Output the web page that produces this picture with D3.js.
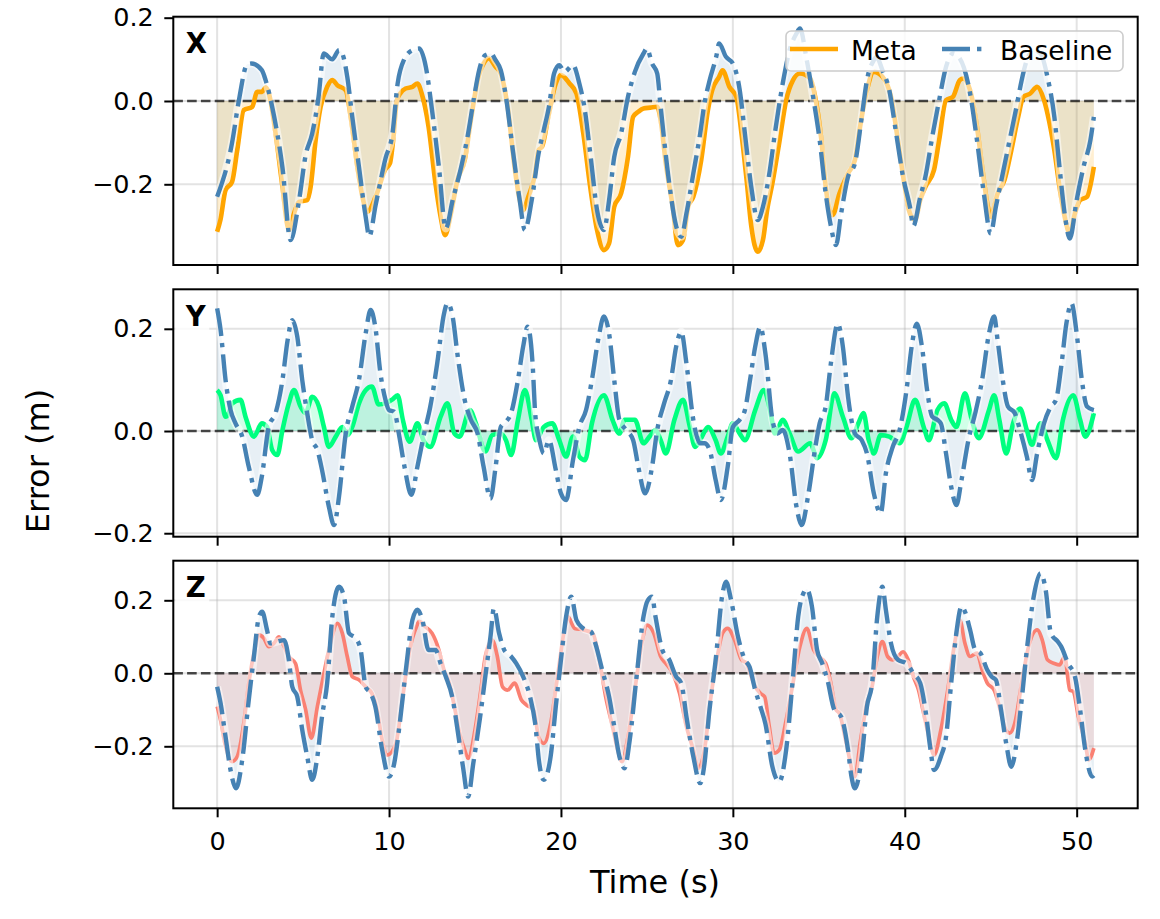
<!DOCTYPE html>
<html><head><meta charset="utf-8">
<script src="https://cdn.jsdelivr.net/npm/d3@7"></script>
<style>body{margin:0;background:#fff;} svg{display:block;font-family:"DejaVu Sans",sans-serif;}</style>
</head><body><svg id="c" width="1160" height="919"></svg>
<script>
// ---------------- data ----------------
const panelNames = ["X", "Y", "Z"];
const xTicks = [0, 10, 20, 30, 40, 50];
const yTicks = [-0.2, 0, 0.2];
const xLimits = [-2.55, 53.55];
const yLimitsX = [-0.3938, 0.2024];
const yLimitsY = [-0.2068, 0.2773];
const yLimitsZ = [-0.3699, 0.3085];
const seriesNames = ["Meta", "Baseline"];
const metaColors = ["#FFA500", "#00FF7F", "#FA8072"];
const baselineColor = "#4682B4";

// [time (s), error (m)]
const metaX = [[0,-0.314],[0.19,-0.286],[0.49,-0.214],[0.87,-0.194],[1.17,-0.118],[1.55,-0.022],[2.04,-0.014],[2.33,0.022],[2.62,0.022],[2.82,0.033],[3.0,0.02],[3.4,-0.078],[3.8,-0.206],[4.17,-0.31],[4.47,-0.27],[4.76,-0.242],[5.24,-0.238],[5.44,-0.206],[5.73,-0.094],[6.02,-0.014],[6.4,0.034],[6.7,0.05],[6.99,0.038],[7.48,0.026],[7.77,-0.038],[8.16,-0.158],[8.45,-0.23],[8.74,-0.266],[9.22,-0.23],[9.8,-0.163],[10.05,-0.15],[10.25,-0.09],[10.45,0.0],[10.65,0.018],[10.96,0.03],[11.36,0.034],[11.65,0.042],[11.9,0.018],[12.3,-0.062],[12.7,-0.198],[13.0,-0.278],[13.26,-0.322],[13.6,-0.27],[13.98,-0.19],[14.4,-0.142],[14.76,-0.046],[15.15,0.05],[15.5,0.09],[15.8,0.102],[16.2,0.082],[16.5,0.066],[16.9,-0.014],[17.3,-0.158],[17.6,-0.238],[17.8,-0.262],[18.1,-0.23],[18.5,-0.174],[18.7,-0.118],[18.9,-0.11],[19.3,-0.03],[19.7,0.042],[20.0,0.062],[20.5,0.042],[20.9,0.018],[21.3,-0.078],[21.7,-0.206],[22.1,-0.31],[22.5,-0.358],[22.8,-0.342],[23.1,-0.254],[23.5,-0.222],[23.9,-0.134],[24.2,-0.038],[24.5,-0.026],[24.8,-0.018],[25.2,-0.016],[25.6,-0.014],[25.8,-0.046],[26.1,-0.15],[26.5,-0.254],[26.8,-0.346],[27.1,-0.334],[27.4,-0.254],[27.7,-0.23],[28.16,-0.142],[28.55,-0.022],[28.8,0.026],[29.2,0.058],[29.4,0.074],[29.8,0.034],[30.2,0.01],[30.5,-0.078],[30.8,-0.19],[31.07,-0.3],[31.45,-0.362],[31.75,-0.334],[32.0,-0.26],[32.3,-0.198],[32.7,-0.1],[33.1,0.002],[33.5,0.05],[33.9,0.066],[34.5,0.054],[34.75,0.018],[35.15,-0.094],[35.4,-0.206],[35.8,-0.274],[36.2,-0.222],[36.7,-0.174],[37.1,-0.142],[37.4,-0.062],[37.8,0.026],[38.2,0.07],[38.7,0.058],[39.2,0.01],[39.6,-0.094],[40.0,-0.206],[40.3,-0.27],[40.6,-0.286],[40.9,-0.238],[41.2,-0.206],[41.7,-0.166],[42.0,-0.094],[42.4,0.002],[42.8,0.01],[43.2,0.05],[43.4,0.054],[43.8,0.026],[44.2,-0.062],[44.5,-0.158],[44.8,-0.246],[45.0,-0.278],[45.4,-0.222],[45.8,-0.19],[46.2,-0.118],[46.6,-0.038],[46.9,0.01],[47.3,0.018],[47.7,0.034],[48.1,0.002],[48.3,-0.03],[48.7,-0.118],[49.0,-0.206],[49.3,-0.278],[49.6,-0.318],[49.9,-0.27],[50.2,-0.238],[50.6,-0.23],[51.0,-0.158]];

const baseX = [[0,-0.23],[0.87,-0.1],[1.26,0.0],[1.75,0.088],[2.0,0.09],[2.6,0.074],[2.82,0.05],[3.2,-0.014],[3.8,-0.16],[4.27,-0.334],[4.76,-0.24],[5.15,-0.13],[5.53,-0.078],[5.9,0.01],[6.2,0.114],[6.7,0.1],[7.09,0.122],[7.28,0.114],[7.57,0.058],[7.86,-0.038],[8.25,-0.158],[8.64,-0.278],[8.85,-0.325],[9.22,-0.25],[9.8,-0.137],[10.2,-0.078],[10.5,0.042],[10.88,0.1],[11.36,0.122],[11.75,0.126],[12.14,0.082],[12.5,-0.022],[12.9,-0.158],[13.3,-0.306],[13.7,-0.238],[14.2,-0.158],[14.6,-0.078],[14.95,0.01],[15.24,0.074],[15.6,0.11],[15.93,0.114],[16.2,0.098],[16.5,0.074],[16.8,0.01],[17.2,-0.118],[17.6,-0.238],[17.9,-0.31],[18.3,-0.238],[18.7,-0.126],[19.0,-0.07],[19.3,-0.014],[19.6,0.066],[19.9,0.086],[20.2,0.07],[20.7,0.086],[21.07,0.042],[21.36,-0.014],[21.75,-0.142],[22.1,-0.262],[22.5,-0.31],[22.8,-0.238],[23.1,-0.134],[23.5,-0.078],[23.9,0.01],[24.3,0.07],[24.8,0.114],[25.0,0.126],[25.3,0.09],[25.6,0.066],[25.8,-0.014],[26.3,-0.198],[26.7,-0.3],[27.0,-0.326],[27.3,-0.27],[27.7,-0.174],[28.1,-0.078],[28.35,-0.006],[28.65,0.05],[29.03,0.106],[29.2,0.138],[29.6,0.106],[30.0,0.09],[30.4,0.026],[30.7,-0.078],[31.07,-0.206],[31.45,-0.286],[31.75,-0.254],[32.1,-0.18],[32.5,-0.062],[32.9,0.042],[33.3,0.122],[33.7,0.162],[33.9,0.174],[34.3,0.098],[34.7,0.002],[35.05,-0.094],[35.4,-0.222],[35.7,-0.3],[36.0,-0.346],[36.3,-0.27],[36.7,-0.182],[37.1,-0.15],[37.5,-0.038],[37.8,0.05],[38.2,0.098],[38.35,0.106],[38.7,0.074],[39.1,0.026],[39.5,-0.078],[39.9,-0.182],[40.3,-0.254],[40.5,-0.3],[40.9,-0.23],[41.2,-0.182],[41.6,-0.086],[42.0,0.002],[42.4,0.082],[42.8,0.114],[43.2,0.102],[43.8,0.018],[44.2,-0.094],[44.6,-0.222],[45.0,-0.318],[45.3,-0.254],[45.7,-0.174],[46.1,-0.094],[46.5,-0.014],[46.8,0.05],[47.1,0.098],[47.5,0.122],[47.9,0.114],[48.3,0.058],[48.7,-0.038],[49.0,-0.158],[49.3,-0.27],[49.6,-0.33],[50.0,-0.238],[50.4,-0.158],[50.8,-0.094],[51.0,-0.038]];

const metaY = [[0,0.08],[0.2,0.07],[0.49,0.028],[0.68,0.035],[0.87,0.054],[1.36,0.061],[1.65,0.028],[2.14,-0.011],[2.6,0.015],[2.9,0.008],[3.2,-0.037],[3.5,-0.047],[3.8,0.002],[4.17,0.054],[4.47,0.08],[4.85,0.048],[5.15,0.035],[5.53,0.067],[5.92,0.048],[6.21,0.008],[6.5,-0.031],[6.9,-0.011],[7.28,0.008],[7.57,-0.008],[7.86,0.008],[8.25,0.054],[8.64,0.08],[9.0,0.087],[9.4,0.052],[9.8,0.054],[10.2,0.062],[10.5,0.07],[10.8,0.022],[11.2,-0.021],[11.65,0.015],[12.0,-0.018],[12.4,-0.031],[13.0,0.028],[13.4,0.054],[13.8,-0.005],[14.1,-0.011],[14.7,0.041],[15.05,0.015],[15.6,-0.04],[16.0,-0.008],[16.5,-0.005],[16.8,-0.018],[17.1,-0.047],[17.5,0.022],[17.9,0.08],[18.3,0.022],[18.55,-0.018],[19.0,0.008],[19.5,0.015],[19.9,-0.018],[20.3,-0.05],[20.7,-0.011],[21.07,-0.05],[21.4,-0.057],[21.8,0.015],[22.5,0.07],[23.0,0.022],[23.4,-0.005],[23.7,0.022],[24.3,0.022],[24.8,-0.024],[25.15,-0.011],[25.5,0.002],[25.8,-0.018],[26.1,-0.044],[26.6,0.022],[27.1,0.061],[27.5,0.008],[27.8,-0.031],[28.2,-0.011],[28.55,0.008],[29.0,-0.018],[29.3,-0.044],[29.7,-0.011],[30.0,0.015],[30.4,-0.005],[30.7,-0.018],[31.3,0.041],[31.8,0.08],[32.2,0.035],[32.45,-0.005],[32.9,0.022],[33.3,-0.005],[33.8,-0.04],[34.5,-0.024],[34.9,-0.053],[35.4,-0.018],[35.9,0.074],[36.4,0.028],[36.9,-0.014],[37.3,0.015],[37.6,0.035],[37.9,-0.018],[38.2,-0.044],[38.6,-0.008],[39.1,-0.011],[39.7,-0.024],[40.1,0.008],[40.6,0.061],[41.1,0.008],[41.4,-0.018],[41.9,0.041],[42.3,0.054],[42.7,0.022],[43.0,0.008],[43.5,0.074],[43.9,0.022],[44.3,-0.014],[44.9,0.041],[45.2,0.07],[45.5,0.022],[45.9,-0.044],[46.3,0.015],[46.7,0.044],[47.1,0.002],[47.4,-0.027],[47.9,0.015],[48.3,-0.018],[48.8,-0.053],[49.2,0.022],[49.8,0.07],[50.2,0.022],[50.5,-0.011],[51.0,0.035]];

const baseY = [[0,0.24],[0.2,0.198],[0.49,0.1],[0.78,0.041],[1.07,0.015],[1.46,-0.011],[1.84,-0.07],[2.33,-0.125],[2.6,-0.089],[3.0,0.008],[3.4,0.035],[3.8,0.1],[4.1,0.178],[4.37,0.217],[4.66,0.185],[4.95,0.1],[5.24,0.035],[5.53,-0.018],[5.83,-0.037],[6.1,-0.076],[6.5,-0.148],[6.8,-0.184],[7.09,-0.128],[7.48,-0.005],[7.86,0.048],[8.25,0.1],[8.64,0.191],[8.93,0.237],[9.2,0.204],[9.5,0.113],[9.8,0.06],[10.0,0.041],[10.3,0.038],[10.6,-0.011],[10.9,-0.07],[11.3,-0.125],[11.65,-0.07],[12.04,-0.005],[12.4,0.048],[12.8,0.132],[13.2,0.23],[13.4,0.25],[13.7,0.224],[14.0,0.145],[14.4,0.061],[14.76,0.022],[15.15,-0.005],[15.5,-0.07],[15.9,-0.132],[16.2,-0.07],[16.5,0.008],[16.8,0.018],[17.1,0.035],[17.5,0.1],[17.8,0.165],[18.06,0.204],[18.35,0.132],[18.5,0.035],[18.75,-0.018],[19.0,-0.044],[19.3,-0.018],[19.7,-0.076],[20.0,-0.122],[20.3,-0.135],[20.7,-0.057],[21.07,0.008],[21.46,0.041],[21.8,0.1],[22.2,0.185],[22.5,0.224],[22.8,0.191],[23.1,0.1],[23.4,0.022],[23.8,0.002],[24.2,-0.018],[24.5,-0.07],[24.9,-0.122],[25.3,-0.07],[25.6,0.002],[26.0,0.054],[26.4,0.1],[26.7,0.165],[27.0,0.194],[27.3,0.132],[27.7,0.022],[28.1,-0.024],[28.35,-0.024],[28.65,-0.037],[29.0,-0.096],[29.3,-0.135],[29.7,-0.07],[30.0,0.008],[30.4,0.022],[30.7,0.041],[31.0,0.1],[31.3,0.165],[31.6,0.204],[31.9,0.15],[32.3,0.022],[32.6,-0.005],[32.9,0.002],[33.3,-0.044],[33.7,-0.148],[34.0,-0.184],[34.4,-0.122],[34.8,-0.031],[35.05,0.015],[35.4,0.048],[35.7,0.132],[36.1,0.21],[36.4,0.165],[36.7,0.067],[37.1,-0.005],[37.5,-0.018],[37.8,-0.044],[38.2,-0.122],[38.6,-0.161],[38.9,-0.083],[39.3,-0.031],[39.7,0.002],[40.1,0.08],[40.4,0.165],[40.7,0.21],[41.0,0.165],[41.3,0.08],[41.6,0.028],[41.9,0.022],[42.1,0.015],[42.4,-0.044],[42.7,-0.109],[43.0,-0.145],[43.3,-0.096],[43.7,-0.018],[44.1,0.035],[44.5,0.1],[44.9,0.191],[45.2,0.224],[45.4,0.178],[45.7,0.1],[46.0,0.048],[46.4,0.035],[46.7,0.002],[47.1,-0.05],[47.4,-0.096],[47.7,-0.044],[48.1,0.015],[48.5,0.048],[48.8,0.061],[49.1,0.126],[49.4,0.21],[49.7,0.25],[50.0,0.191],[50.3,0.1],[50.6,0.048],[51.0,0.041]];

const metaZ = [[0,-0.091],[0.2,-0.128],[0.49,-0.2],[0.87,-0.242],[1.17,-0.228],[1.55,-0.137],[1.84,-0.027],[2.14,0.055],[2.43,0.105],[2.72,0.096],[3.0,0.073],[3.3,0.082],[3.6,0.1],[3.9,0.073],[4.17,0.046],[4.56,0.027],[4.85,-0.046],[5.15,-0.1],[5.48,-0.178],[5.83,-0.091],[6.1,-0.027],[6.5,0.064],[7.0,0.137],[7.28,0.11],[7.57,0.046],[7.86,-0.009],[8.25,-0.018],[8.64,-0.037],[9.0,-0.055],[9.3,-0.1],[9.6,-0.183],[9.9,-0.224],[10.4,-0.192],[10.8,-0.064],[11.2,0.064],[11.6,0.128],[11.75,0.142],[12.1,0.128],[12.5,0.11],[12.9,0.064],[13.2,0.009],[13.5,-0.027],[13.8,-0.091],[14.1,-0.164],[14.4,-0.21],[14.6,-0.233],[15.0,-0.155],[15.34,-0.046],[15.6,0.046],[16.0,0.091],[16.3,0.046],[16.6,-0.037],[16.9,-0.046],[17.3,-0.027],[17.7,-0.073],[18.0,-0.087],[18.4,-0.1],[18.7,-0.174],[19.0,-0.192],[19.4,-0.137],[19.8,-0.009],[20.2,0.119],[20.4,0.155],[20.8,0.123],[21.3,0.119],[21.85,0.11],[22.2,0.046],[22.6,-0.064],[23.0,-0.146],[23.3,-0.21],[23.55,-0.242],[23.9,-0.174],[24.3,-0.046],[24.7,0.082],[25.0,0.132],[25.4,0.11],[25.8,0.046],[26.1,0.027],[26.5,0.0],[26.9,-0.055],[27.3,-0.146],[27.7,-0.21],[28.0,-0.26],[28.35,-0.21],[28.7,-0.073],[29.1,0.046],[29.4,0.11],[29.7,0.123],[30.1,0.091],[30.5,0.037],[30.8,0.027],[31.2,-0.027],[31.6,-0.055],[31.85,-0.064],[32.1,-0.14],[32.4,-0.219],[32.7,-0.21],[33.1,-0.128],[33.5,-0.027],[33.9,0.073],[34.3,0.123],[34.7,0.064],[35.0,0.046],[35.4,0.027],[35.7,-0.027],[36.0,-0.1],[36.2,-0.11],[36.6,-0.192],[37.1,-0.283],[37.4,-0.192],[37.8,-0.082],[38.1,-0.037],[38.4,0.046],[38.7,0.087],[39.0,0.046],[39.3,0.037],[39.6,0.046],[39.9,0.059],[40.2,0.037],[40.5,-0.009],[40.8,-0.046],[41.1,-0.11],[41.4,-0.174],[41.7,-0.224],[42.1,-0.155],[42.5,-0.046],[42.9,0.082],[43.2,0.146],[43.5,0.082],[43.8,0.046],[44.2,0.055],[44.5,0.009],[44.8,-0.027],[45.2,-0.046],[45.5,-0.091],[45.8,-0.146],[46.1,-0.164],[46.4,-0.137],[46.8,-0.027],[47.2,0.073],[47.7,0.119],[48.0,0.091],[48.3,0.037],[48.7,0.027],[49.0,0.023],[49.3,0.046],[49.6,-0.046],[49.8,-0.05],[50.1,-0.119],[50.5,-0.192],[50.7,-0.237],[51.0,-0.205]];

const baseZ = [[0,-0.037],[0.2,-0.082],[0.49,-0.174],[0.78,-0.265],[1.1,-0.315],[1.46,-0.237],[1.84,-0.073],[2.14,0.046],[2.43,0.155],[2.62,0.169],[2.9,0.119],[3.1,0.082],[3.5,0.087],[3.9,0.091],[4.17,0.037],[4.37,-0.037],[4.66,-0.064],[4.95,-0.155],[5.24,-0.228],[5.53,-0.292],[5.83,-0.228],[6.1,-0.119],[6.4,-0.027],[6.7,0.155],[7.09,0.237],[7.38,0.21],[7.67,0.11],[8.06,0.096],[8.35,0.064],[8.64,-0.037],[8.93,-0.055],[9.2,-0.091],[9.6,-0.21],[10.0,-0.283],[10.3,-0.247],[10.6,-0.146],[11.0,0.018],[11.36,0.146],[11.65,0.174],[11.94,0.146],[12.3,0.064],[12.7,0.064],[13.0,0.027],[13.3,-0.009],[13.7,-0.07],[14.0,-0.16],[14.3,-0.256],[14.6,-0.338],[14.9,-0.247],[15.3,-0.119],[15.6,-0.009],[15.9,0.1],[16.1,0.178],[16.4,0.11],[16.7,0.064],[17.1,0.046],[17.4,0.027],[17.8,-0.009],[18.2,-0.064],[18.5,-0.137],[18.74,-0.247],[19.0,-0.292],[19.4,-0.228],[19.7,-0.091],[20.0,0.037],[20.3,0.155],[20.6,0.21],[20.9,0.146],[21.3,0.123],[21.75,0.114],[22.0,0.082],[22.4,0.009],[22.8,-0.064],[23.1,-0.146],[23.4,-0.228],[23.7,-0.26],[24.0,-0.183],[24.4,-0.009],[24.8,0.155],[25.05,0.2],[25.3,0.21],[25.5,0.155],[25.9,0.064],[26.3,0.037],[26.7,-0.009],[27.0,-0.027],[27.3,-0.119],[27.7,-0.228],[28.1,-0.301],[28.35,-0.247],[28.6,-0.119],[29.0,0.037],[29.4,0.219],[29.6,0.251],[29.9,0.2],[30.3,0.1],[30.7,0.037],[30.97,0.018],[31.3,-0.046],[31.6,-0.091],[31.9,-0.14],[32.3,-0.256],[32.7,-0.297],[33.1,-0.21],[33.5,-0.009],[33.8,0.155],[34.1,0.219],[34.3,0.23],[34.6,0.183],[34.9,0.064],[35.2,0.027],[35.5,-0.018],[35.9,-0.1],[36.3,-0.119],[36.7,-0.21],[36.9,-0.283],[37.1,-0.315],[37.5,-0.228],[37.8,-0.091],[38.1,-0.027],[38.4,0.155],[38.7,0.237],[38.9,0.174],[39.2,0.082],[39.6,0.037],[40.1,0.027],[40.5,0.0],[40.9,-0.027],[41.2,-0.1],[41.5,-0.21],[41.7,-0.265],[42.1,-0.228],[42.4,-0.174],[42.7,-0.027],[43.0,0.11],[43.3,0.183],[43.5,0.169],[43.8,0.119],[44.1,0.064],[44.4,0.055],[44.8,0.009],[45.05,-0.009],[45.3,-0.018],[45.6,-0.1],[45.9,-0.192],[46.2,-0.256],[46.5,-0.192],[46.8,-0.073],[47.1,0.064],[47.5,0.21],[47.9,0.274],[48.2,0.228],[48.5,0.11],[48.9,0.087],[49.1,0.073],[49.5,0.027],[49.9,-0.009],[50.2,-0.1],[50.5,-0.21],[50.9,-0.283],[51.0,-0.28]];

// ---------------- layout ----------------
const svg = d3.select("#c");
const left = 173.3, right = 1137.7;
const panelBoxes = [[16.7, 265], [289.3, 536.7], [560.7, 808.3]];
const yLimitsAll = [yLimitsX, yLimitsY, yLimitsZ];
const metaAll = [metaX, metaY, metaZ];
const baseAll = [baseX, baseY, baseZ];
const metaWidths = [4.6, 4.6, 3.7];
const baseWidth = 4.4;
const dashDot = "28,7,4.4,7";
const tickFont = 25.5;

const x = d3.scaleLinear().domain(xLimits).range([left, right]);
const fmt = d => (d < 0 ? "\u2212" : "") + Math.abs(d).toFixed(1);

panelNames.forEach((name, i) => {
  const [top, bottom] = panelBoxes[i];
  const y = d3.scaleLinear().domain(yLimitsAll[i]).range([bottom, top]);
  const g = svg.append("g");
  const clipId = "clip" + i;
  svg.append("defs").append("clipPath").attr("id", clipId)
    .append("rect").attr("x", left).attr("y", top).attr("width", right - left).attr("height", bottom - top);

  const plot = g.append("g").attr("clip-path", `url(#${clipId})`);
  // grid
  plot.selectAll(".vg").data(xTicks).enter().append("line")
    .attr("x1", d => x(d)).attr("x2", d => x(d)).attr("y1", top).attr("y2", bottom)
    .attr("stroke", "#b0b0b0").attr("stroke-opacity", 0.35).attr("stroke-width", 2);
  plot.selectAll(".hg").data(yTicks).enter().append("line")
    .attr("x1", left).attr("x2", right).attr("y1", d => y(d)).attr("y2", d => y(d))
    .attr("stroke", "#b0b0b0").attr("stroke-opacity", 0.35).attr("stroke-width", 2);

  const curve = d3.curveMonotoneX;
  const area = d3.area().x(d => x(d[0])).y0(y(0)).y1(d => y(d[1])).curve(curve);
  const line = d3.line().x(d => x(d[0])).y(d => y(d[1])).curve(curve);

  plot.append("path").datum(baseAll[i]).attr("d", area)
    .attr("fill", baselineColor).attr("fill-opacity", 0.13);
  plot.append("path").datum(metaAll[i]).attr("d", area)
    .attr("fill", metaColors[i]).attr("fill-opacity", 0.18);

  // zero line
  plot.append("line").attr("x1", left).attr("x2", right).attr("y1", y(0)).attr("y2", y(0))
    .attr("stroke", "#000").attr("stroke-opacity", 0.7).attr("stroke-width", 2.6)
    .attr("stroke-dasharray", "9.6,4.2");

  // meta line
  plot.append("path").datum(metaAll[i]).attr("d", line)
    .attr("fill", "none").attr("stroke", metaColors[i]).attr("stroke-width", metaWidths[i])
    .attr("stroke-linejoin", "round").attr("stroke-linecap", "butt");
  // baseline halo + dash-dot line
  plot.append("path").datum(baseAll[i]).attr("d", line)
    .attr("fill", "none").attr("stroke", "#fff").attr("stroke-opacity", 0.55).attr("stroke-width", 8)
    .attr("stroke-linejoin", "round");
  plot.append("path").datum(baseAll[i]).attr("d", line)
    .attr("fill", "none").attr("stroke", baselineColor).attr("stroke-width", baseWidth)
    .attr("stroke-dasharray", dashDot).attr("stroke-linejoin", "round");

  // axes
  const ax = g.append("g").attr("transform", `translate(0,${bottom})`)
    .call(d3.axisBottom(x).tickValues(xTicks).tickSize(9).tickPadding(15)
      .tickFormat(i === 2 ? d3.format("d") : () => ""));
  const ay = g.append("g").attr("transform", `translate(${left},0)`)
    .call(d3.axisLeft(y).tickValues(yTicks).tickSize(9).tickPadding(10.5).tickFormat(fmt));
  [ax, ay].forEach(a => {
    a.select(".domain").remove();
    a.selectAll(".tick line").attr("stroke", "#000").attr("stroke-width", 2);
    a.selectAll(".tick text").attr("fill", "#000").attr("font-size", tickFont)
      .attr("font-family", "DejaVu Sans, sans-serif");
  });

  // panel label with white box
  g.append("rect").attr("x", left + 2).attr("y", top + 13).attr("width", 34).attr("height", 29)
    .attr("fill", "#fff").attr("fill-opacity", 0.8);
  g.append("text").attr("x", left + 12.5).attr("y", top + 36.3).text(name)
    .attr("font-size", 27.5).attr("font-weight", "bold").attr("fill", "#000");

  // frame
  g.append("rect").attr("x", left).attr("y", top).attr("width", right - left).attr("height", bottom - top)
    .attr("fill", "none").attr("stroke", "#000").attr("stroke-width", 2);

  // legend on first panel
  if (i === 0) {
    const lg = g.append("g");
    lg.append("rect").attr("x", 786).attr("y", 31).attr("width", 337).attr("height", 40)
      .attr("rx", 5).attr("fill", "#fff").attr("fill-opacity", 0.8)
      .attr("stroke", "#cccccc").attr("stroke-width", 1.6);
    lg.append("line").attr("x1", 790).attr("x2", 838).attr("y1", 49).attr("y2", 49)
      .attr("stroke", metaColors[0]).attr("stroke-width", metaWidths[0]);
    lg.append("text").attr("x", 851).attr("y", 59.5).text(seriesNames[0])
      .attr("font-size", 26.5).attr("fill", "#000");
    lg.append("line").attr("x1", 942).attr("x2", 988).attr("y1", 49).attr("y2", 49)
      .attr("stroke", baselineColor).attr("stroke-width", baseWidth).attr("stroke-dasharray", dashDot);
    lg.append("text").attr("x", 1000).attr("y", 59.5).text(seriesNames[1])
      .attr("font-size", 26.5).attr("fill", "#000");
  }
});

// axis labels
svg.append("text").attr("x", 655).attr("y", 893).attr("text-anchor", "middle")
  .attr("font-size", 32).attr("fill", "#000").text("Time (s)");
svg.append("text").attr("transform", "translate(49,461) rotate(-90)").attr("text-anchor", "middle")
  .attr("font-size", 32).attr("fill", "#000").text("Error (m)");
</script></body></html>
